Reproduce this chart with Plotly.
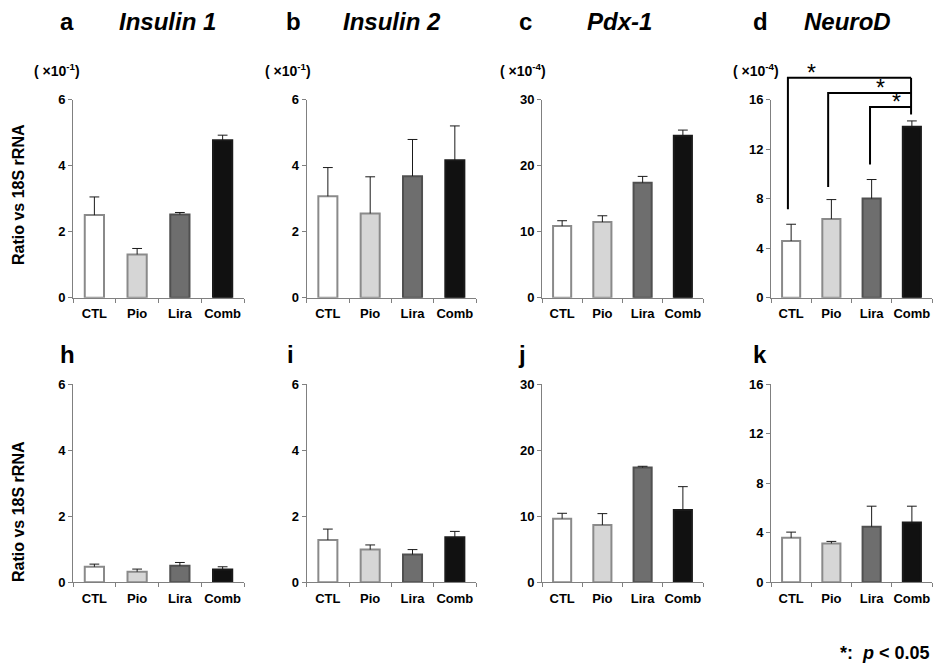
import plotly.graph_objects as go

# ---------------- data ----------------
categories = ["CTL", "Pio", "Lira", "Comb"]

# top row (a-d)
ins1_mean = [2.50, 1.31, 2.52, 4.77]
ins1_sd = [0.55, 0.18, 0.06, 0.15]
ins2_mean = [3.07, 2.55, 3.68, 4.16]
ins2_sd = [0.87, 1.11, 1.11, 1.04]
pdx_mean = [10.84, 11.45, 17.40, 24.50]
pdx_sd = [0.81, 0.95, 0.96, 0.87]
neurod_mean = [4.58, 6.36, 8.00, 13.80]
neurod_sd = [1.35, 1.56, 1.54, 0.47]

# bottom row (h-k)
ins1_b_mean = [0.47, 0.32, 0.50, 0.39]
ins1_b_sd = [0.08, 0.08, 0.10, 0.08]
ins2_b_mean = [1.28, 0.99, 0.84, 1.36]
ins2_b_sd = [0.33, 0.14, 0.15, 0.18]
pdx_b_mean = [9.63, 8.67, 17.35, 10.94]
pdx_b_sd = [0.81, 1.72, 0.20, 3.53]
neurod_b_mean = [3.59, 3.14, 4.48, 4.83]
neurod_b_sd = [0.46, 0.16, 1.66, 1.31]

ticks_6 = [0, 2, 4, 6]
ticks_30 = [0, 10, 20, 30]
ticks_16 = [0, 4, 8, 12, 16]

panel_letters = ["a", "b", "c", "d", "h", "i", "j", "k"]
gene_titles = ["Insulin 1", "Insulin 2", "Pdx-1", "NeuroD"]
scale_labels = ["( ×10<sup>-1</sup>)", "( ×10<sup>-1</sup>)", "( ×10<sup>-4</sup>)", "( ×10<sup>-4</sup>)"]
y_title = "Ratio vs 18S rRNA"
sig_note = "*:  <i>p</i> < 0.05"

# significance brackets in panel d (left category index, bracket level)
sig_left = [-0.08, 0.92, 1.96]
sig_level = [17.75, 16.53, 15.40]
sig_leg_end = [7.14, 8.94, 10.75]
sig_right = 2.98
sig_right_end = 14.79
sig_star_x = [0.50, 2.21, 2.62]

# ---------------- styling ----------------
OFF = 8                      # default page margin of the html body
W, H = 944 - OFF, 669 - OFF  # figure fits exactly in the window
FONT = "Liberation Sans, Arial, Noto Sans CJK JP, sans-serif"
fills = ["#ffffff", "#d6d6d6", "#6e6e6e", "#111111"]
edges = ["#8a8a8a", "#8a8a8a", "#505050", "#1a1a1a"]
AXC = "#808080"


def px_x(px):
    return (px - OFF) / W


def px_y(py):
    return 1 - (py - OFF) / H


col_px = [(73, 244), (306.7, 476), (542, 703), (771, 932)]
row_px = [(99.5, 297.7), (384, 582.3)]

panels = [
    (ins1_mean, ins1_sd, ticks_6),
    (ins2_mean, ins2_sd, ticks_6),
    (pdx_mean, pdx_sd, ticks_30),
    (neurod_mean, neurod_sd, ticks_16),
    (ins1_b_mean, ins1_b_sd, ticks_6),
    (ins2_b_mean, ins2_b_sd, ticks_6),
    (pdx_b_mean, pdx_b_sd, ticks_30),
    (neurod_b_mean, neurod_b_sd, ticks_16),
]

fig = go.Figure()
layout_axes = {}

for k, (mean, sd, tv) in enumerate(panels, start=1):
    col = (k - 1) % 4
    row = (k - 1) // 4
    xa, ya = f"x{k}", f"y{k}"
    fig.add_trace(go.Bar(
        x=categories, y=mean, width=0.45,
        marker=dict(color=fills, line=dict(color=edges, width=2)),
        xaxis=xa, yaxis=ya, showlegend=False, hoverinfo="skip"))
    ex, ey = [], []
    for c, m, s in zip(categories, mean, sd):
        ex += [c, c, None]
        ey += [m, m + s, None]
    fig.add_trace(go.Scatter(
        x=ex, y=ey, mode="lines", line=dict(color="#1a1a1a", width=1),
        xaxis=xa, yaxis=ya, showlegend=False, hoverinfo="skip"))
    fig.add_trace(go.Scatter(
        x=categories, y=[m + s for m, s in zip(mean, sd)], mode="markers",
        marker=dict(symbol="line-ew", size=7, line=dict(color="#1a1a1a", width=1)),
        cliponaxis=False, xaxis=xa, yaxis=ya, showlegend=False, hoverinfo="skip"))

    x0, x1 = col_px[col]
    y0, y1 = row_px[row]
    sfx = "" if k == 1 else str(k)
    layout_axes["xaxis" + sfx] = dict(
        domain=[px_x(x0), px_x(x1)], anchor=ya, type="category",
        categoryorder="array", categoryarray=categories,
        range=[-0.5, 3.5], showline=True, linecolor=AXC, linewidth=1,
        ticks="outside", ticklen=4, tickcolor=AXC, tickson="boundaries",
        tickangle=0, ticklabelstandoff=4,
        tickfont=dict(size=13, family=FONT, color="black", weight="bold"),
        showgrid=False, zeroline=False, automargin=False, fixedrange=True)
    layout_axes["yaxis" + sfx] = dict(
        domain=[px_y(y1), px_y(y0)], anchor=xa,
        range=[0, tv[-1]], tickvals=tv, showline=True, linecolor=AXC, linewidth=1,
        ticks="outside", ticklen=4, tickcolor=AXC,
        tickfont=dict(size=13, family=FONT, color="black", weight="bold"),
        showgrid=False, zeroline=False, automargin=False, fixedrange=True)

annotations = []


def ann(text, xpx, ypx, size, italic=False, weight="bold", angle=0, xanchor="center"):
    annotations.append(dict(
        text=text, x=px_x(xpx), y=px_y(ypx), xref="paper", yref="paper",
        xanchor=xanchor, yanchor="middle", showarrow=False, textangle=angle,
        font=dict(size=size, family=FONT, color="black", weight=weight,
                  style="italic" if italic else "normal")))


letter_x = [67, 293, 525, 760, 67, 290, 522, 760]
title_x = [167, 392, 619, 847]
scale_x = [57, 288, 523, 756]
for i, L in enumerate(panel_letters):
    ann(L, letter_x[i], 22 if i < 4 else 354, 24)
for i, t in enumerate(gene_titles):
    ann(t, title_x[i], 22, 24, italic=True)
    ann(scale_labels[i], scale_x[i], 70, 14)
ann(y_title, 18, 195, 16, angle=-90)
ann(y_title, 18, 512, 16, angle=-90)
ann(sig_note, 932, 653, 18, xanchor="right")

# significance brackets (panel d)
shapes = []
ymax_d = ticks_16[-1]
for xl, lv, le in zip(sig_left, sig_level, sig_leg_end):
    shapes.append(dict(type="path", xref="x4", yref="y4 domain",
                       path=f"M {xl},{le / ymax_d} L {xl},{lv / ymax_d} L {sig_right},{lv / ymax_d}",
                       line=dict(color="black", width=2)))
shapes.append(dict(type="line", xref="x4", yref="y4 domain",
                   x0=sig_right, x1=sig_right, y0=sig_level[0] / ymax_d, y1=sig_right_end / ymax_d,
                   line=dict(color="black", width=2)))
for sx, lv in zip(sig_star_x, sig_level):
    annotations.append(dict(text="*", x=sx, y=lv / ymax_d, xref="x4", yref="y4 domain",
                            xanchor="center", yanchor="bottom", showarrow=False, yshift=-10,
                            font=dict(size=23, family=FONT, color="black")))

fig.update_layout(
    width=W, height=H, margin=dict(l=0, r=0, t=0, b=0),
    paper_bgcolor="white", plot_bgcolor="white",
    template="none", showlegend=False,
    annotations=annotations, shapes=shapes, **layout_axes)

fig.write_html("out.html")
